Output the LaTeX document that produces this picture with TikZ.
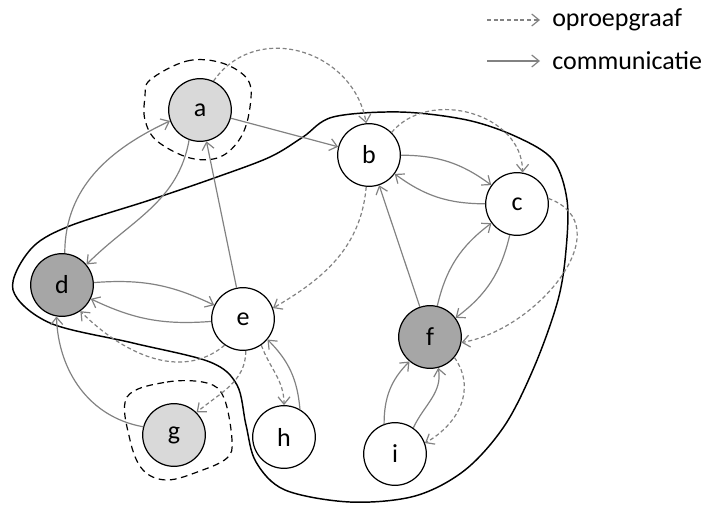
\documentclass[tikz,border=0pt]{standalone}
\usepackage{fontspec}
\setmainfont{Carlito}
\usepackage{tikz}
\usetikzlibrary{arrows.meta}
\definecolor{lichtgrijs}{RGB}{217,217,217}
\definecolor{donkergrijs}{RGB}{166,166,166}
\definecolor{pijlgrijs}{RGB}{130,130,130}

\begin{document}
\begin{tikzpicture}[x=0.75pt, y=-0.75pt,
		knoop/.style={circle, draw=black, line width=0.9pt, fill=white, minimum size=47pt, inner sep=0pt, font=\fontsize{19.5}{21}\selectfont},
		comm/.style={draw=pijlgrijs, line width=0.9pt, -{Straight Barb[length=5.5pt,width=9pt]}},
		oproep/.style={comm, dash pattern=on 3pt off 2pt},
		groep/.style={draw=black, line width=0.9pt, dash pattern=on 5pt off 3.5pt}]
			%%%%% START %%%%%
			\useasboundingbox (0,0) rectangle (705,504);
			
			% grote omlijning
			\draw[line width=1.1pt] plot[smooth cycle, tension=0.55] coordinates {(217,177) (270,157) (303,137) (333,117) (400,112) (467,120) (517,137) (553,160) (567,200) (566,250) (558,300) (535,365) (505,425) (465,470) (415,496) (350,502) (285,490) (256,462) (246,425) (237,385) (210,362) (133,343) (50,323) (13,290) (30,250) (67,227) (150,200)};
			
			% knopen
			\node[knoop, fill=lichtgrijs] (a) at (200,110) {a};
			\node[knoop] (b) at (369,155) {b};
			\node[knoop] (c) at (517,204) {c};
			\node[knoop, fill=donkergrijs] (d) at (62,285) {d};
			\node[knoop] (e) at (243,319) {e};
			\node[knoop, fill=donkergrijs] (f) at (430,337) {f};
			\node[knoop, fill=lichtgrijs] (g) at (174,435) {g};
			\node[knoop] (h) at (284,437) {h};
			\node[knoop] (i) at (395,454) {i};
			
			% groepjes rond a en g
			\draw[groep] plot[smooth cycle, tension=0.6] coordinates {(150,80) (187,61) (222,63) (248,80) (250,107) (241,137) (220,157) (190,158) (157,141) (145,120) (145,97)};
			\draw[groep] plot[smooth cycle, tension=0.6] coordinates {(127,397) (167,382) (207,383) (224,398) (232,440) (227,458) (200,471) (167,480) (143,470) (130,440)};
			
			% communicatie
			\draw[comm] (a) -- (b);
			\draw[comm] (e) -- (a);
			\draw[comm] (f) -- (b);
			\draw[comm] (d.85) to[out=90, in=205] (a.200);
			\draw[comm] (a.-110) to[out=-100, in=45] (d.40);
			\draw[comm] (d) to[bend left=15] (e);
			\draw[comm] (e) to[bend left=15] (d);
			\draw[comm] (b) to[bend left=18] (c);
			\draw[comm] (c) to[bend left=18] (b);
			\draw[comm] (f) to[bend left=20] (c);
			\draw[comm] (c) to[bend left=20] (f);
			\draw[comm] (g.165) to[out=170, in=-88] (d.-100);
			\draw[comm] (h.60) to[out=95, in=-45] (e.-40);
			\draw[comm] (i.110) to[out=90, in=-135] (f.-130);
			\draw[comm] (i.55) to[out=65, in=-80] (f.-75);
			
			% oproepgraaf
			\draw[oproep] (a.65) to[out=55, in=100, looseness=1.2] (b.95);
			\draw[oproep] (b.45) to[out=50, in=90, looseness=1.1] (c.80);
			\draw[oproep] (b.-95) to[out=-95, in=30] (e.20);
			\draw[oproep] (c.10) to[out=-20, in=10, looseness=1.2] (f.-10);
			\draw[oproep] (e.-125) to[out=-140, in=-45] (d.-55);
			\draw[oproep] (e.-85) to[out=-90, in=40] (g.45);
			\draw[oproep] (e.-55) to[out=-70, in=90] (h.90);
			\draw[oproep] (f.-40) to[out=-55, in=30, looseness=1.1] (i.20);
			
			% legenda
			\coordinate (l1) at (487,20);
			\coordinate (l2) at (540,20);
			\coordinate (l3) at (487,61);
			\coordinate (l4) at (540,61);
			\draw[oproep] (l1) -- (l2);
			\draw[comm] (l3) -- (l4);
			\node[anchor=west, font=\fontsize{19.5}{21}\selectfont, inner sep=0pt] (tl1) at (552,20) {oproepgraaf};
			\node[anchor=west, font=\fontsize{19.5}{21}\selectfont, inner sep=0pt] (tl2) at (552,61) {communicatie};
			%%%%% END %%%%%
\end{tikzpicture}
\end{document}
